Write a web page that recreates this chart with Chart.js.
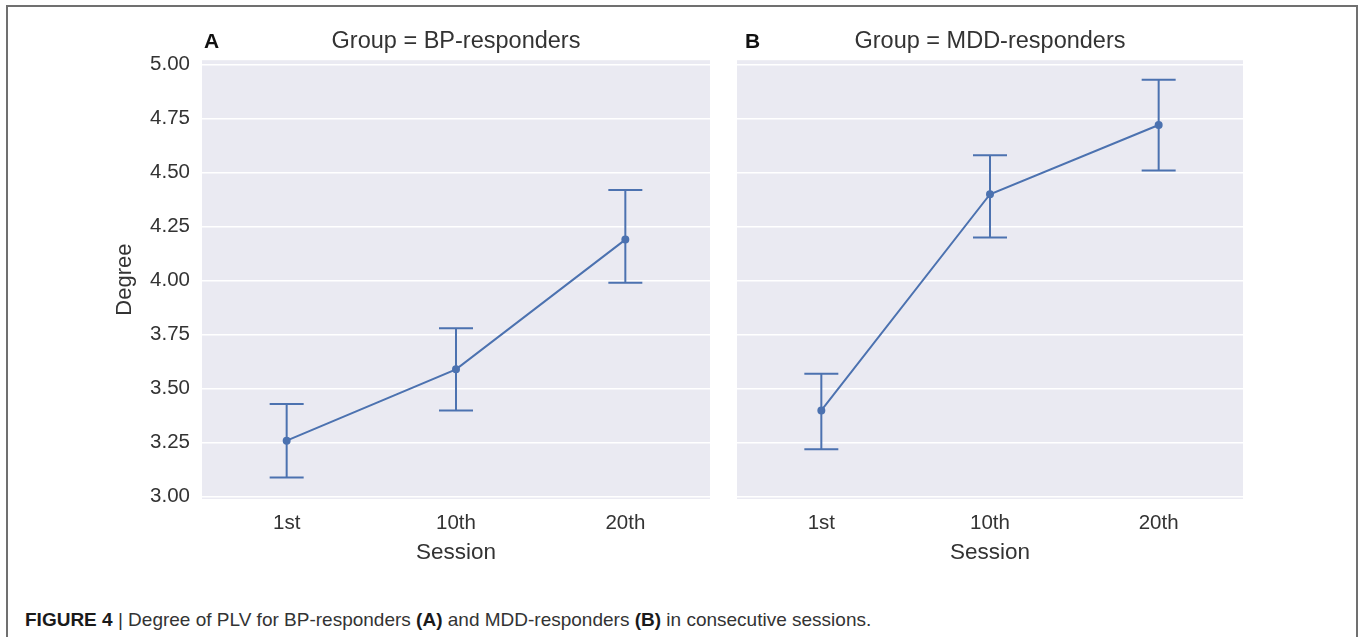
<!DOCTYPE html>
<html>
<head>
<meta charset="utf-8">
<script src="https://cdn.jsdelivr.net/npm/chart.js@4.4.1/dist/chart.umd.min.js"></script>
<style>
  body { margin: 0; background: #fff; width: 1358px; height: 637px; overflow: hidden; position: relative; font-family: "Liberation Sans", Arial, sans-serif; }
  .frame { position: absolute; left: 6px; top: 5px; width: 1348px; height: 700px; border: 2px solid #707070; border-bottom: none; }
  canvas { position: absolute; }
  #panelA { left: 105px; top: 15px; }
  #panelB { left: 727px; top: 15px; }
  .caption { position: absolute; left: 25px; top: 609px; font-size: 19px; color: #333; white-space: nowrap; }
  .caption b { color: #1a1a1a; }
</style>
</head>
<body>
<div class="frame"></div>
<canvas id="panelA" width="610" height="565"></canvas>
<canvas id="panelB" width="521" height="565"></canvas>
<div class="caption"><b>FIGURE 4</b> | Degree of PLV for BP-responders <b>(A)</b> and MDD-responders <b>(B)</b> in consecutive sessions.</div>

<script>
// --- DONNEES ---
const sessions = ["1st", "10th", "20th"];
const yTicks = [3.00, 3.25, 3.50, 3.75, 4.00, 4.25, 4.50, 4.75, 5.00];

// BP-responders (A)
const bpMean = [3.26, 3.59, 4.19];
const bpLow  = [3.09, 3.40, 3.99];
const bpHigh = [3.43, 3.78, 4.42];

// MDD-responders (B)
const mddMean = [3.40, 4.40, 4.72];
const mddLow  = [3.22, 4.20, 4.51];
const mddHigh = [3.57, 4.58, 4.93];

const blue = "#4c72b0";
const textColor = "#333";
const fontFamily = "'Liberation Sans', Arial, sans-serif";

// --- PLUGINS ---
const plotBackground = {
    id: "plotBackground",
    beforeDraw(chart) {
        const { ctx, chartArea: a } = chart;
        ctx.save();
        ctx.fillStyle = "#eaeaf2";
        ctx.fillRect(a.left, a.top, a.right - a.left, a.bottom - a.top);
        ctx.restore();
    }
};

const errorBars = {
    id: "errorBars",
    afterDatasetsDraw(chart, args, opts) {
        const { ctx, scales: { x, y } } = chart;
        ctx.save();
        ctx.strokeStyle = blue;
        ctx.lineWidth = 2;
        opts.low.forEach((lo, i) => {
            const px = x.getPixelForValue(i);
            const yl = y.getPixelForValue(lo);
            const yh = y.getPixelForValue(opts.high[i]);
            ctx.beginPath();
            ctx.moveTo(px, yl); ctx.lineTo(px, yh);
            ctx.moveTo(px - 17, yl); ctx.lineTo(px + 17, yl);
            ctx.moveTo(px - 17, yh); ctx.lineTo(px + 17, yh);
            ctx.stroke();
        });
        ctx.restore();
    }
};

const panelLetter = {
    id: "panelLetter",
    afterDraw(chart, args, opts) {
        const ctx = chart.ctx;
        ctx.save();
        ctx.font = "bold 21px " + fontFamily;
        ctx.fillStyle = "#111";
        ctx.fillText(opts.letter, opts.x, opts.y);
        ctx.restore();
    }
};

// --- CREATION D'UN PANNEAU ---
function makePanel(id, title, mean, low, high, letter, letterX, showY) {
    const ctx = document.getElementById(id).getContext("2d");
    return new Chart(ctx, {
        type: "line",
        data: {
            labels: sessions,
            datasets: [{
                data: mean,
                borderColor: blue,
                backgroundColor: blue,
                borderWidth: 2,
                pointRadius: 3,
                pointHoverRadius: 3,
                tension: 0
            }]
        },
        options: {
            responsive: false,
            animation: false,
            devicePixelRatio: 1,
            layout: { padding: 0 },
            plugins: {
                legend: { display: false },
                tooltip: { enabled: false },
                title: {
                    display: true,
                    text: title,
                    fullSize: false,
                    color: textColor,
                    font: { family: fontFamily, size: 23.5, weight: "normal" },
                    padding: { top: 12, bottom: 5 }
                },
                errorBars: { low: low, high: high },
                panelLetter: { letter: letter, x: letterX, y: 33 }
            },
            scales: {
                x: {
                    offset: true,
                    grid: { display: false, drawTicks: false },
                    border: { display: false },
                    ticks: {
                        color: textColor,
                        padding: 12,
                        font: { family: fontFamily, size: 20.5 }
                    },
                    title: {
                        display: true,
                        text: "Session",
                        color: textColor,
                        font: { family: fontFamily, size: 22.5 },
                        padding: { top: 0, bottom: 14 }
                    },
                    afterFit(scale) { scale.height = 81; }
                },
                y: {
                    min: 2.99,
                    max: 5.02,
                    afterBuildTicks(scale) { scale.ticks = yTicks.map(v => ({ value: v })); },
                    grid: { color: "#ffffff", lineWidth: 1.6, drawTicks: false },
                    border: { display: false },
                    ticks: {
                        display: showY,
                        color: textColor,
                        padding: 12,
                        font: { family: fontFamily, size: 20.5 },
                        callback: v => v.toFixed(2)
                    },
                    title: {
                        display: showY,
                        text: "Degree",
                        color: textColor,
                        font: { family: fontFamily, size: 22 },
                        padding: { top: 7, bottom: 0 }
                    },
                    afterFit(scale) { scale.width = showY ? 97 : 10; }
                }
            }
        },
        plugins: [plotBackground, errorBars, panelLetter]
    });
}

makePanel("panelA", "Group = BP-responders", bpMean, bpLow, bpHigh, "A", 99, true);
makePanel("panelB", "Group = MDD-responders", mddMean, mddLow, mddHigh, "B", 18, false);
</script>
</body>
</html>
